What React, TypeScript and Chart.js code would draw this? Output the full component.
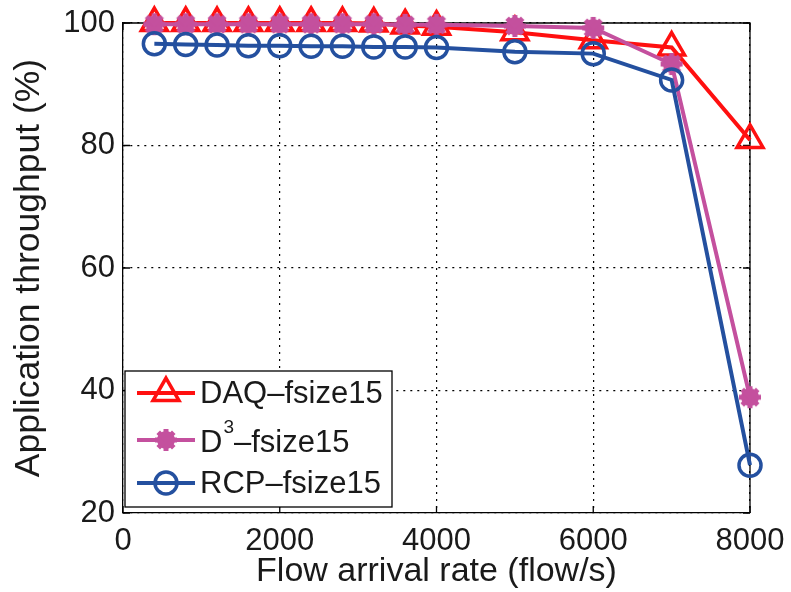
import React, { useEffect, useRef } from "react";
import { Chart, registerables } from "chart.js";

Chart.register(...registerables);

const flowRates = [400, 800, 1200, 1600, 2000, 2400, 2800, 3200, 3600, 4000, 5000, 6000, 7000, 8000];
const daqValues = [100, 100, 100, 100, 100, 100, 100, 99.9, 99.6, 99.4, 98.5, 97.2, 96.0, 80.9];
const d3Values = [99.8, 99.8, 99.8, 99.8, 99.8, 99.8, 99.8, 99.8, 99.7, 99.7, 99.5, 99.2, 93.3, 38.9];
const rcpValues = [96.6, 96.5, 96.4, 96.3, 96.3, 96.2, 96.2, 96.1, 96.1, 96.0, 95.3, 95.0, 90.7, 27.8];

const xTickValues = [0, 2000, 4000, 6000, 8000];
const yTickValues = [20, 40, 60, 80, 100];

const xTitle = "Flow arrival rate (flow/s)";
const yTitle = "Application throughput (%)";

const RED = "#ff1010";
const PINK = "#c4509e";
const BLUE = "#24509f";
const FONT = "'Liberation Sans', Arial, Helvetica, sans-serif";

function makeBlob(): HTMLCanvasElement {
  const c = document.createElement("canvas");
  c.width = 26;
  c.height = 26;
  const g = c.getContext("2d")!;
  g.fillStyle = PINK;
  g.strokeStyle = PINK;
  g.beginPath();
  g.arc(13, 13, 9, 0, Math.PI * 2);
  g.fill();
  g.lineWidth = 5;
  for (let i = 0; i < 8; i++) {
    const a = (i * Math.PI) / 4;
    g.beginPath();
    g.moveTo(13, 13);
    g.lineTo(13 + Math.cos(a) * 11, 13 + Math.sin(a) * 11);
    g.stroke();
  }
  return c;
}

export default function App() {
  const ref = useRef<HTMLCanvasElement>(null);

  useEffect(() => {
    const canvas = ref.current!;
    const blob = makeBlob();

    const boxPlugin = {
      id: "matlabBox",
      beforeDatasetsDraw(chart: any) {
        const { ctx, chartArea: a, scales } = chart;
        ctx.save();
        ctx.strokeStyle = "#000";
        ctx.lineWidth = 1.3;
        ctx.beginPath();
        ctx.moveTo(a.left, a.top);
        ctx.lineTo(a.right, a.top);
        ctx.lineTo(a.right, a.bottom);
        ctx.stroke();
        const tl = 7;
        ctx.beginPath();
        for (const v of xTickValues) {
          const x = scales.x.getPixelForValue(v);
          ctx.moveTo(x, a.bottom);
          ctx.lineTo(x, a.bottom - tl);
          ctx.moveTo(x, a.top);
          ctx.lineTo(x, a.top + tl);
        }
        for (const v of yTickValues) {
          const y = scales.y.getPixelForValue(v);
          ctx.moveTo(a.left, y);
          ctx.lineTo(a.left + tl, y);
          ctx.moveTo(a.right, y);
          ctx.lineTo(a.right - tl, y);
        }
        ctx.stroke();
        ctx.restore();
      },
      afterDraw(chart: any) {
        const { ctx, chartArea: a } = chart;
        const bx = a.left + 2;
        const bw = 267;
        const bh = 136;
        const by = a.bottom - 6 - bh;
        ctx.save();
        ctx.fillStyle = "#fff";
        ctx.fillRect(bx, by, bw, bh);
        ctx.strokeStyle = "#000";
        ctx.lineWidth = 1.3;
        ctx.strokeRect(bx, by, bw, bh);
        const rows = [by + 22, by + 69, by + 112];
        const lx0 = bx + 12;
        const lx1 = bx + 70;
        const mx = (lx0 + lx1) / 2;
        const tx = bx + 75;
        ctx.lineWidth = 4;
        // DAQ
        ctx.strokeStyle = RED;
        ctx.beginPath();
        ctx.moveTo(lx0, rows[0]);
        ctx.lineTo(lx1, rows[0]);
        ctx.stroke();
        ctx.lineWidth = 3.5;
        ctx.beginPath();
        const r = 15;
        ctx.moveTo(mx, rows[0] - r);
        ctx.lineTo(mx + Math.sin((2 * Math.PI) / 3) * r, rows[0] - Math.cos((2 * Math.PI) / 3) * r);
        ctx.lineTo(mx + Math.sin((4 * Math.PI) / 3) * r, rows[0] - Math.cos((4 * Math.PI) / 3) * r);
        ctx.closePath();
        ctx.stroke();
        // D3
        ctx.lineWidth = 4;
        ctx.strokeStyle = PINK;
        ctx.beginPath();
        ctx.moveTo(lx0, rows[1]);
        ctx.lineTo(lx1, rows[1]);
        ctx.stroke();
        ctx.drawImage(blob, mx - 13, rows[1] - 13);
        // RCP
        ctx.strokeStyle = BLUE;
        ctx.beginPath();
        ctx.moveTo(lx0, rows[2]);
        ctx.lineTo(lx1, rows[2]);
        ctx.stroke();
        ctx.lineWidth = 3.5;
        ctx.beginPath();
        ctx.arc(mx, rows[2], 11, 0, Math.PI * 2);
        ctx.stroke();
        // texts
        ctx.fillStyle = "#1a1a1a";
        ctx.textBaseline = "middle";
        ctx.textAlign = "left";
        ctx.font = `31px ${FONT}`;
        ctx.fillText("DAQ–fsize15", tx, rows[0] + 1);
        ctx.fillText("D", tx, rows[1] + 3);
        const dW = ctx.measureText("D").width;
        ctx.font = `19px ${FONT}`;
        ctx.fillText("3", tx + dW + 1, rows[1] - 12);
        const sW = ctx.measureText("3").width;
        ctx.font = `31px ${FONT}`;
        ctx.fillText("–fsize15", tx + dW + sW + 1, rows[1] + 3);
        ctx.fillText("RCP–fsize15", tx, rows[2] + 1);
        ctx.restore();
      },
    };

    const common = {
      fill: false,
      tension: 0,
      borderWidth: 4,
      clip: false as any,
      pointBackgroundColor: "rgba(0,0,0,0)",
      pointBorderWidth: 3.5,
      pointHoverRadius: 0,
    };

    const chart = new Chart(canvas, {
      type: "line",
      data: {
        datasets: [
          {
            ...common,
            label: "DAQ-fsize15",
            data: flowRates.map((x, i) => ({ x, y: daqValues[i] })),
            borderColor: RED,
            pointBorderColor: RED,
            pointStyle: "triangle",
            pointRadius: 15,
            order: 3,
          },
          {
            ...common,
            label: "D3-fsize15",
            data: flowRates.map((x, i) => ({ x, y: d3Values[i] })),
            borderColor: PINK,
            pointBorderColor: PINK,
            pointStyle: blob as any,
            pointRadius: 11,
            order: 2,
          },
          {
            ...common,
            label: "RCP-fsize15",
            data: flowRates.map((x, i) => ({ x, y: rcpValues[i] })),
            borderColor: BLUE,
            pointBorderColor: BLUE,
            pointStyle: "circle",
            pointRadius: 11,
            order: 1,
          },
        ],
      },
      options: {
        animation: false,
        responsive: false,
        layout: { padding: { top: 23, right: 41, left: 0, bottom: 0 } },
        plugins: {
          legend: { display: false },
          tooltip: { enabled: false },
        },
        events: [],
        scales: {
          x: {
            type: "linear",
            min: 0,
            max: 8000,
            afterFit: (s: any) => {
              s.height = 79;
              s.paddingLeft = 0;
              s.paddingRight = 0;
            },
            afterBuildTicks: (s: any) => {
              s.ticks = xTickValues.map((v) => ({ value: v }));
            },
            ticks: {
              font: { family: FONT, size: 31 },
              color: "#1a1a1a",
              padding: 10,
              maxRotation: 0,
              autoSkip: false,
              callback: (v: any) => String(v),
            },
            grid: {
              color: "#000",
              lineWidth: 1.2,
              drawTicks: false,
            },
            border: { display: true, color: "#000", width: 1.3, dash: [2, 5] },
            title: {
              display: true,
              text: xTitle,
              font: { family: FONT, size: 34 },
              color: "#1a1a1a",
              padding: { top: 0, bottom: 0 },
            },
          },
          y: {
            type: "linear",
            min: 20,
            max: 100,
            afterFit: (s: any) => {
              s.width = 123;
              s.paddingTop = 0;
              s.paddingBottom = 0;
            },
            afterBuildTicks: (s: any) => {
              s.ticks = yTickValues.map((v) => ({ value: v }));
            },
            ticks: {
              font: { family: FONT, size: 31 },
              color: "#1a1a1a",
              padding: 8,
              autoSkip: false,
              callback: (v: any) => String(v),
            },
            grid: {
              color: "#000",
              lineWidth: 1.2,
              drawTicks: false,
            },
            border: { display: true, color: "#000", width: 1.3, dash: [2, 5] },
            title: {
              display: true,
              text: yTitle,
              font: { family: FONT, size: 35.5 },
              color: "#1a1a1a",
              padding: { top: 8, bottom: 0 },
            },
          },
        },
      },
      plugins: [boxPlugin],
    });

    return () => chart.destroy();
  }, []);

  return (
    <div style={{ position: "absolute", left: 0, top: 0, width: 791, height: 592, background: "#fff" }}>
      <canvas ref={ref} width={791} height={592} style={{ display: "block" }} />
    </div>
  );
}
